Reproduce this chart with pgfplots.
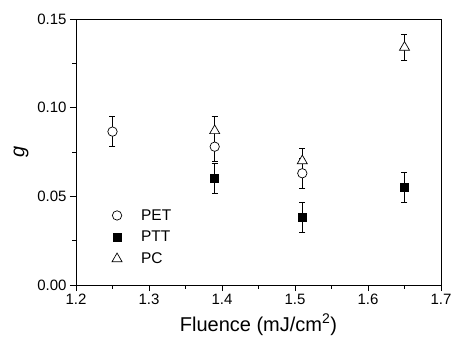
\documentclass[border=0pt]{standalone}
\usepackage{pgfplots}
\pgfplotsset{compat=1.18}
\usepackage{fontspec}
\setmainfont{Liberation Sans}
\begin{document}
\begin{tikzpicture}
\begin{axis}[
  scale only axis,
  width=365bp, height=266bp,
  xmin=1.2, xmax=1.7, ymin=0, ymax=0.15,
  xtick={1.2,1.3,...,1.7},
  ytick={0,0.05,0.1,0.15},
  minor x tick num=1, minor y tick num=1,
  tick align=outside,
  xtick pos=bottom, ytick pos=left,
  major tick length=6bp, minor tick length=3.5bp,
  axis line style={line width=0.9bp},
  every tick/.style={line width=0.8bp, black},
  /pgf/number format/assume math mode=true,
  xticklabel style={/pgf/number format/.cd, fixed, fixed zerofill, precision=1},
  yticklabel style={/pgf/number format/.cd, fixed, fixed zerofill, precision=2},
  ticklabel style={font=\fontsize{15bp}{18bp}\selectfont},
  scaled y ticks=false,
  xlabel={Fluence (mJ/cm\textsuperscript{2})},
  ylabel={\textit{g}},
  label style={font=\fontsize{20bp}{24bp}\selectfont},
  xlabel style={yshift=-2bp},
  ylabel style={yshift=2bp},
  legend style={draw=none, fill=none, at={(0.09,0.30)}, anchor=north west,
    font=\fontsize{15.5bp}{18bp}\selectfont, row sep=5.5bp,
    legend cell align=left,
    /tikz/every odd column/.append style={column sep=17bp}},
  err/.style={forget plot, draw=none, mark=none,
    error bars/y dir=both, error bars/y explicit,
    error bars/error bar style={draw=black, line width=0.7bp},
    error bars/error mark options={draw=black, rotate=90, mark size=3bp, line width=0.7bp}},
]
% error bars first, so that the white-filled markers cover them
\addplot[err] coordinates {(1.25,0.0865) +- (0,0.0085) (1.39,0.078) +- (0,0.008) (1.51,0.063) +- (0,0.0085)};
\addplot[err] coordinates {(1.39,0.060) +- (0,0.0085) (1.51,0.038) +- (0,0.0085) (1.65,0.055) +- (0,0.0085)};
\addplot[err] coordinates {(1.39,0.087) +- (0,0.008) (1.51,0.070) +- (0,0.007) (1.65,0.134) +- (0,0.0075)};
\addplot[only marks, mark=*, mark size=4.7bp, black, mark options={draw=black, fill=white, line width=0.7bp}]
 coordinates {(1.25,0.0865) (1.39,0.078) (1.51,0.063)};
\addlegendentry{PET}
\addplot[only marks, mark=square*, mark size=4bp, black, mark options={draw=black, fill=black, line width=0.7bp}]
 coordinates {(1.39,0.060) (1.51,0.038) (1.65,0.055)};
\addlegendentry{PTT}
\addplot[only marks, mark=triangle*, mark size=5.8bp, black, mark options={draw=black, fill=white, line width=0.7bp}]
 coordinates {(1.39,0.087) (1.51,0.070) (1.65,0.134)};
\addlegendentry{PC}
\end{axis}
\pgfresetboundingbox
\path (-76bp,-61bp) rectangle (376bp,285bp);
\end{tikzpicture}
\end{document}
